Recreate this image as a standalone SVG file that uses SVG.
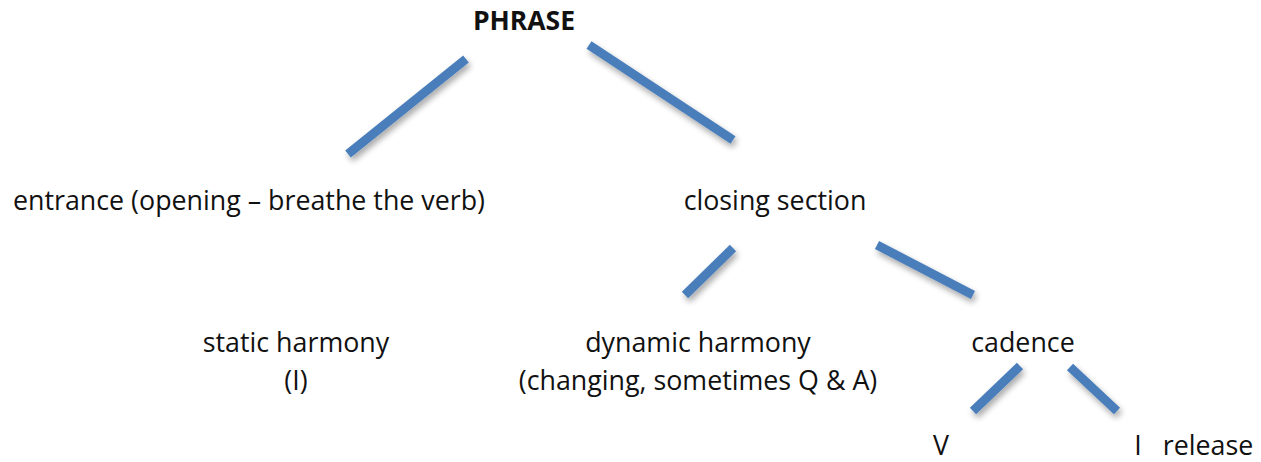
<svg xmlns="http://www.w3.org/2000/svg" width="1261" height="462" viewBox="0 0 1261 462">
<style>
  text { font-family: "Open Sans", "Noto Sans", sans-serif; font-size: 26.8px; fill: #111; text-anchor: middle; }
  .b { font-weight: bold; font-size: 26.5px; }
  .ln { stroke: #4A7EBB; stroke-width: 9; stroke-linecap: butt; fill: none; filter: url(#sh); }
</style>
<defs>
  <filter id="sh" x="-30%" y="-30%" width="160%" height="160%">
    <feGaussianBlur in="SourceAlpha" stdDeviation="3"/>
    <feOffset dx="2" dy="4" result="o"/>
    <feComponentTransfer><feFuncA type="linear" slope="0.35"/></feComponentTransfer>
    <feMerge><feMergeNode/><feMergeNode in="SourceGraphic"/></feMerge>
  </filter>
</defs>
<rect width="1261" height="462" fill="#fff"/>
<g id="connectors">
  <line class="ln" x1="348" y1="154" x2="466" y2="59"/>
  <line class="ln" x1="589" y1="45" x2="733" y2="140"/>
  <line class="ln" x1="300" y1="249" x2="300" y2="294"/>
  <line class="ln" x1="685" y1="295" x2="733" y2="248"/>
  <line class="ln" x1="877" y1="245" x2="973" y2="295"/>
  <line class="ln" x1="973" y1="411" x2="1020" y2="366"/>
  <line class="ln" x1="1070" y1="367" x2="1117" y2="411"/>
</g>
<g id="phrase"><text class="b" x="524" y="30">PHRASE</text></g>
<g id="entrance"><text x="249" y="210">entrance (opening – breathe the verb)</text></g>
<g id="closing"><text x="775" y="210">closing section</text></g>
<g id="static"><text x="296" y="352">static harmony</text><text x="296" y="390">(I)</text></g>
<g id="dynamic"><text x="698" y="352">dynamic harmony</text><text x="698" y="390">(changing, sometimes Q &amp; A)</text></g>
<g id="cadence"><text x="1023" y="352">cadence</text></g>
<g id="v"><text x="941" y="455">V</text></g>
<g id="i"><text x="1138" y="455">I</text><text x="1208" y="455">release</text></g>
</svg>
